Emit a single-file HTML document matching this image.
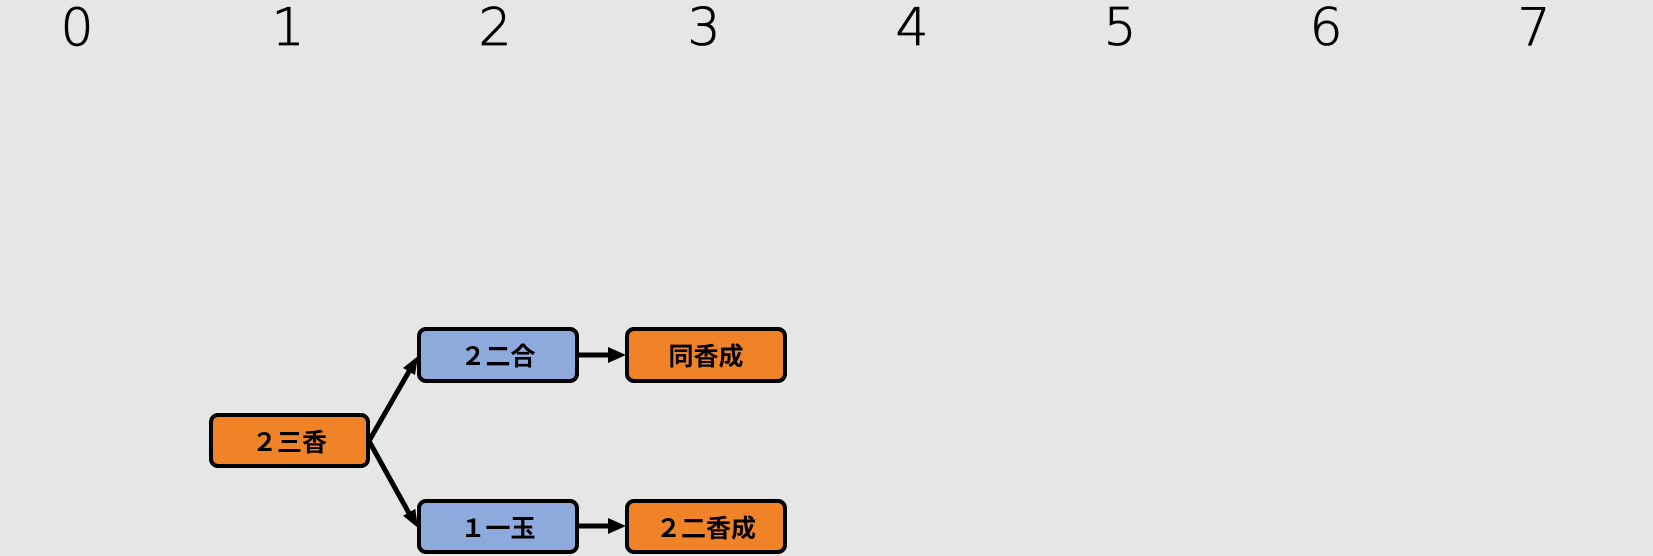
<!DOCTYPE html>
<html><head><meta charset="utf-8"><style>
body{margin:0;width:1653px;height:556px;background:#e6e6e6;position:relative;overflow:hidden;font-family:"Liberation Sans","Noto Sans CJK JP",sans-serif}
.d{position:absolute;top:-2px;font-size:52px;font-family:"DejaVu Sans","Liberation Sans",sans-serif;font-weight:200;width:60px;text-align:center;margin-left:-30px;color:#000;-webkit-text-stroke:0.8px #000}
.b{position:absolute;box-sizing:border-box;border:4px solid #000;border-radius:9px;display:flex;align-items:center;justify-content:center;font-weight:bold;font-size:25px;font-family:"Noto Sans CJK JP",sans-serif}
.o{background:#f08228}.l{background:#8eaadc}
</style></head><body>
<div class="d" style="left:77px">0</div>
<div class="d" style="left:288px">1</div>
<div class="d" style="left:495px">2</div>
<div class="d" style="left:704px">3</div>
<div class="d" style="left:912px">4</div>
<div class="d" style="left:1120px">5</div>
<div class="d" style="left:1326px">6</div>
<div class="d" style="left:1534px">7</div>
<svg width="1653" height="556" style="position:absolute;left:0;top:0">
<g stroke="#000" stroke-width="5" fill="none">
<line x1="369" y1="441" x2="411" y2="368"/>
<line x1="369" y1="441" x2="410" y2="515"/>
<line x1="578" y1="355" x2="610" y2="355"/>
<line x1="578" y1="526" x2="610" y2="526"/>
</g>
<g fill="#000">
<polygon points="418,356 415,375 403,368"/>
<polygon points="418,528 415.3,508.9 403.1,515.7"/>
<polygon points="626,355 608,347 608,363"/>
<polygon points="626,526 608,518 608,534"/>
</g></svg>
<div class="b o" style="left:209px;top:413px;width:161px;height:55px">２三香</div>
<div class="b l" style="left:417px;top:327px;width:162px;height:56px">２二合</div>
<div class="b o" style="left:625px;top:327px;width:162px;height:56px">同香成</div>
<div class="b l" style="left:417px;top:499px;width:162px;height:55px">１一玉</div>
<div class="b o" style="left:625px;top:499px;width:162px;height:55px">２二香成</div>
</body></html>
